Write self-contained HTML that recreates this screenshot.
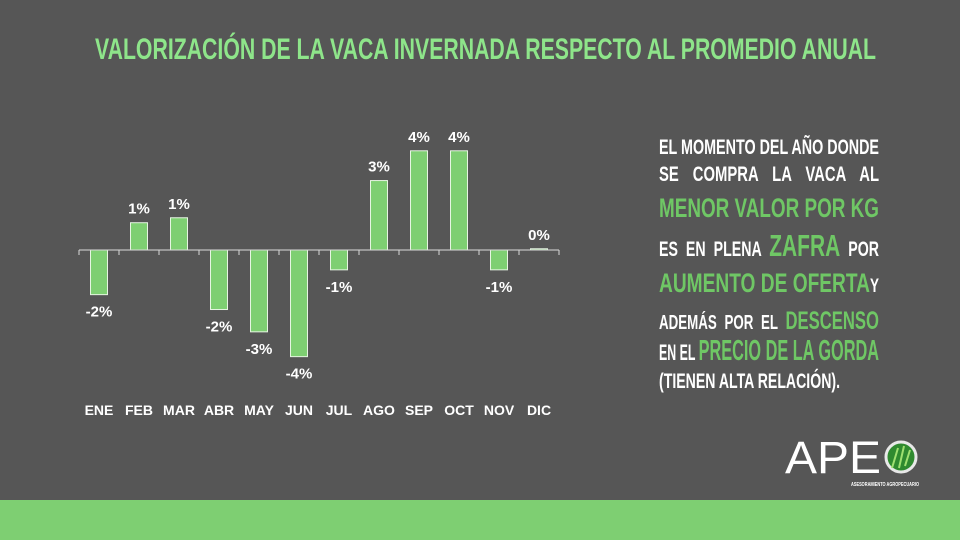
<!DOCTYPE html>
<html><head><meta charset="utf-8"><style>
html,body{margin:0;padding:0;background:#565656;}
svg{display:block;font-family:"Liberation Sans Narrow","Liberation Sans",sans-serif;font-weight:bold;}
</style></head><body>
<svg id="c" width="960" height="540" viewBox="0 0 960 540">
<rect x="0" y="0" width="960" height="540" fill="#565656"/>
<rect x="0" y="500" width="960" height="40" fill="#7ecf72"/>
<text x="95" y="59" font-size="30" fill="#8ee58a" textLength="781" lengthAdjust="spacingAndGlyphs">VALORIZACIÓN DE LA VACA INVERNADA RESPECTO AL PROMEDIO ANUAL</text>
<g id="chart"></g>
<g fill="#ffffff">
<text x="659" y="154" font-size="21" textLength="220" lengthAdjust="spacingAndGlyphs">EL MOMENTO DEL AÑO DONDE</text>
<text x="659" y="181" font-size="21" textLength="220" lengthAdjust="spacingAndGlyphs" word-spacing="14">SE COMPRA LA VACA AL</text>
<text x="659" y="217" font-size="27" fill="#6fc765" textLength="220" lengthAdjust="spacingAndGlyphs">MENOR VALOR POR KG</text>
<text x="659" y="256" font-size="21" textLength="220" lengthAdjust="spacingAndGlyphs" word-spacing="6">ES EN PLENA <tspan font-size="31" fill="#6fc765">ZAFRA</tspan> POR</text>
<text x="659" y="292" font-size="27" textLength="220" lengthAdjust="spacingAndGlyphs"><tspan fill="#6fc765">AUMENTO DE OFERTA</tspan><tspan font-size="19">Y</tspan></text>
<text x="659" y="329" font-size="20" textLength="220" lengthAdjust="spacingAndGlyphs" word-spacing="6">ADEMÁS POR EL <tspan font-size="25" fill="#6fc765">DESCENSO</tspan></text>
<text x="659" y="360" font-size="22" textLength="220" lengthAdjust="spacingAndGlyphs">EN EL <tspan font-size="29" fill="#6fc765">PRECIO DE LA GORDA</tspan></text>
<text x="659" y="388" font-size="21" textLength="181" lengthAdjust="spacingAndGlyphs">(TIENEN ALTA RELACIÓN).</text>
</g>
<g>
<text x="785" y="473" font-family="Liberation Sans, sans-serif" font-weight="normal" font-size="45" fill="#ffffff" textLength="96" lengthAdjust="spacingAndGlyphs">APE</text>
<circle cx="901" cy="457" r="15" fill="#2f8a2f" stroke="#e8e8e8" stroke-width="3"/>
<path d="M892 468 L898 448 M899 468 L904 446 M905 466 L910 450" stroke="#9fe070" stroke-width="2"/>
<text x="851" y="486" font-family="Liberation Sans, sans-serif" font-size="5" fill="#ffffff" textLength="68" lengthAdjust="spacingAndGlyphs">ASESORAMIENTO AGROPECUARIO</text>
</g>
</svg>
<script>
const months = ["ENE","FEB","MAR","ABR","MAY","JUN","JUL","AGO","SEP","OCT","NOV","DIC"];
const values = [-1.8, 1.1, 1.3, -2.4, -3.3, -4.3, -0.8, 2.8, 4.0, 4.0, -0.8, 0.05];
const valueLabels = ["-2%","1%","1%","-2%","-3%","-4%","-1%","3%","4%","4%","-1%","0%"];

const NS = "http://www.w3.org/2000/svg";
const g = document.getElementById("chart");
const x0 = 79, x1 = 559, baseY = 250, pxPerUnit = 24.8;
const band = (x1 - x0) / months.length;
const xPos = i => x0 + band * i + band / 2;
const yPos = v => baseY - v * pxPerUnit;
function mk(tag, attrs) { const e = document.createElementNS(NS, tag); for (const k in attrs) e.setAttribute(k, attrs[k]); g.appendChild(e); return e; }

months.forEach((m, i) => {
  const v = values[i];
  const y = Math.min(yPos(v), baseY), h = Math.max(Math.abs(yPos(v) - baseY), 0.8);
  const r = mk("rect", {x: xPos(i) - 8.5, y: y, width: 17, height: h, fill: "#7ecf72", stroke: "#e6f5e2", "stroke-width": 1});
  
  
  const ly = v >= 0 ? yPos(v) - 9 : yPos(v) + 22;
  const t = mk("text", {x: xPos(i), y: ly, "text-anchor": "middle", "font-size": 15, fill: "#ffffff"});
  t.textContent = valueLabels[i];
  
  
  const c = mk("text", {x: xPos(i), y: 415, "text-anchor": "middle", "font-size": 14, fill: "#ffffff"});
  c.textContent = m;
  
  
});
const ax = mk("line", {x1: x0, x2: x1, y1: baseY, y2: baseY, stroke: "#d9d9d9", "stroke-width": 1});


for (let i = 0; i <= months.length; i++) {
  const tk = mk("line", {x1: x0 + band * i, x2: x0 + band * i, y1: baseY, y2: baseY + 5, stroke: "#d9d9d9", "stroke-width": 1});
  
  
}
</script>
</body></html>
